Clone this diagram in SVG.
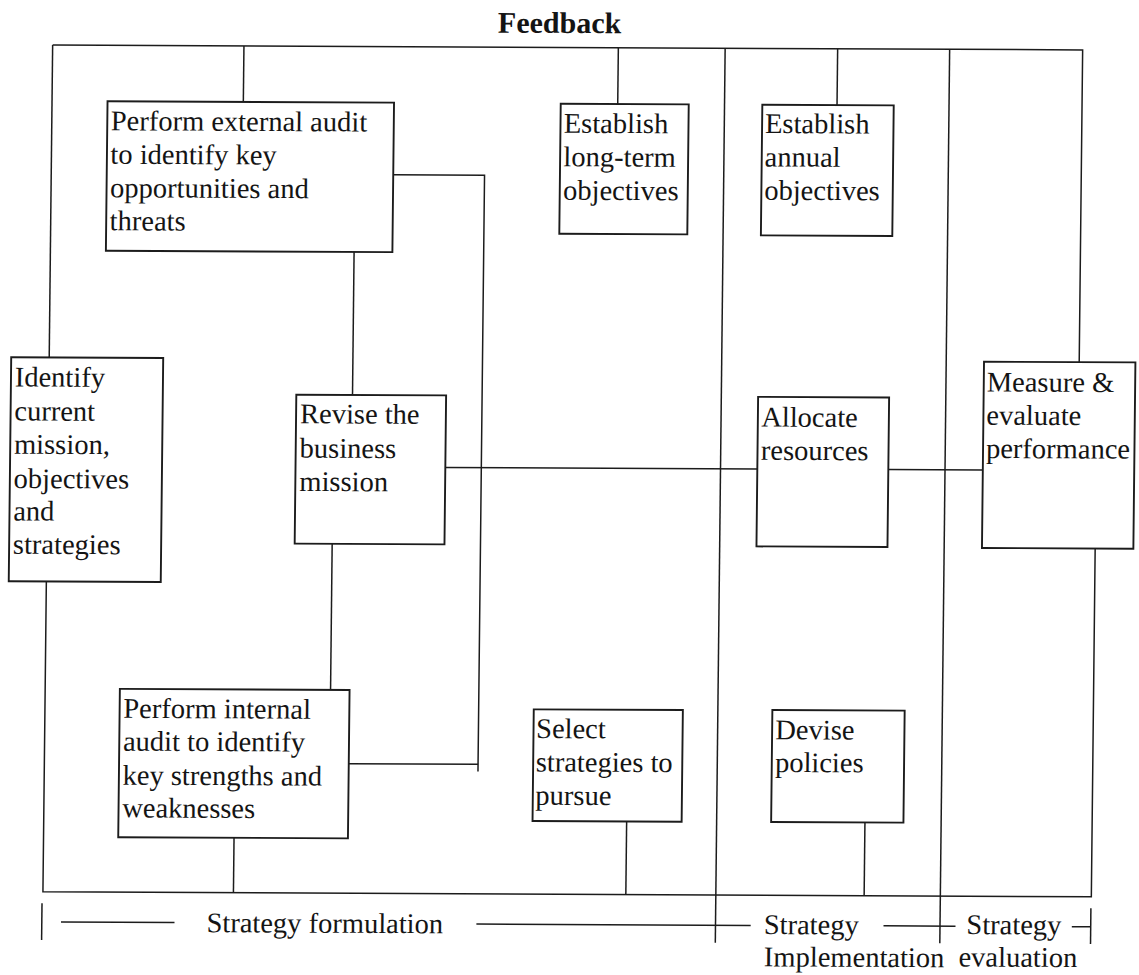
<svg xmlns="http://www.w3.org/2000/svg" width="1139" height="975" viewBox="0 0 1139 975">
  <style>
    .box { fill: #ffffff; stroke: #1c1c1c; stroke-width: 1.9; }
    .wire { fill: none; stroke: #1c1c1c; stroke-width: 1.5; }
    .lbl { font-family: "Liberation Serif", "Times New Roman", serif; font-size: 28.5px; fill: #141414; }
    .title { font-family: "Liberation Serif", "Times New Roman", serif; font-size: 30px; font-weight: bold; fill: #141414; }
  </style>
  <rect width="1139" height="975" fill="#ffffff"/>
  <!-- whole sheet sits with a slight tilt -->
  <g transform="matrix(1 0.0048 -0.011 1 5.17 -2.74)">
    <text class="title" x="493" y="33">Feedback</text>

    <g id="connectors">
      <!-- feedback loop frame -->
      <path class="wire" d="M48,47.5 H1078 V359.7"/>
      <path class="wire" d="M48,47.5 V360"/>
      <path class="wire" d="M47.6,584 V894.3 H1096 V546"/>
      <!-- drops from the feedback line -->
      <path class="wire" d="M239.3,47.5 V103.5"/>
      <path class="wire" d="M613.7,47.5 V103.8"/>
      <path class="wire" d="M833,47.5 V103.8"/>
      <!-- stage dividers -->
      <path class="wire" d="M720.5,47.5 V942"/>
      <path class="wire" d="M945,47.5 V941.5"/>
      <!-- audits to mission -->
      <path class="wire" d="M390,175.7 H481.3 V772"/>
      <path class="wire" d="M352,764.7 H481.3"/>
      <path class="wire" d="M351.7,253 V396"/>
      <path class="wire" d="M333,545 V691"/>
      <!-- rises to the baseline -->
      <path class="wire" d="M238.1,839.4 V894.3"/>
      <path class="wire" d="M630.5,821.2 V894.3"/>
      <path class="wire" d="M868.8,821 V894.3"/>
      <!-- mission through resources to evaluation -->
      <path class="wire" d="M445.3,468 H757.3"/>
      <path class="wire" d="M888.3,468 H982.8"/>
      <!-- stage scale -->
      <path class="wire" d="M46.8,905.8 V942.5"/>
      <path class="wire" d="M66,924.5 H179.5"/>
      <path class="wire" d="M481.4,924.5 H755.7"/>
      <path class="wire" d="M888.5,924.3 H960.5"/>
      <path class="wire" d="M1076.8,924.3 H1095.7"/>
      <path class="wire" d="M1095.7,905.8 V941.5"/>
    </g>

    <g id="external-audit">
      <rect class="box" x="103.5" y="103.5" width="286.5" height="149.5"/>
      <text class="lbl" x="107"><tspan x="107" y="132.5">Perform external audit</tspan><tspan x="107" y="166">to identify key</tspan><tspan x="107" y="199.5">opportunities and</tspan><tspan x="107" y="232.5">threats</tspan></text>
    </g>

    <g id="long-term-objectives">
      <rect class="box" x="556.7" y="103.8" width="128" height="130"/>
      <text class="lbl"><tspan x="560" y="132.8">Establish</tspan><tspan x="560" y="166.3">long-term</tspan><tspan x="560" y="199.8">objectives</tspan></text>
    </g>

    <g id="annual-objectives">
      <rect class="box" x="758.3" y="103.8" width="131.4" height="130.7"/>
      <text class="lbl"><tspan x="761.2" y="132.1">Establish</tspan><tspan x="761.2" y="165.5">annual</tspan><tspan x="761.2" y="198.8">objectives</tspan></text>
    </g>

    <g id="identify-mission">
      <rect class="box" x="10" y="360" width="152" height="224"/>
      <text class="lbl"><tspan x="13.8" y="389.1">Identify</tspan><tspan x="13.8" y="423.1">current</tspan><tspan x="13.8" y="456.4">mission,</tspan><tspan x="13.8" y="490.7">objectives</tspan><tspan x="13.8" y="523.1">and</tspan><tspan x="13.8" y="556.4">strategies</tspan></text>
    </g>

    <g id="revise-mission">
      <rect class="box" x="295.5" y="396" width="149.8" height="149"/>
      <text class="lbl"><tspan x="299.5" y="424.5">Revise the</tspan><tspan x="299.5" y="458.9">business</tspan><tspan x="299.5" y="492.2">mission</tspan></text>
    </g>

    <g id="allocate-resources">
      <rect class="box" x="757.3" y="396" width="131" height="149.5"/>
      <text class="lbl"><tspan x="760.7" y="425.6">Allocate</tspan><tspan x="760.7" y="458.9">resources</tspan></text>
    </g>

    <g id="measure-performance">
      <rect class="box" x="982.8" y="359.7" width="151.4" height="186.3"/>
      <text class="lbl"><tspan x="985.8" y="389.4">Measure &amp;</tspan><tspan x="985.8" y="422.7">evaluate</tspan><tspan x="985.8" y="456">performance</tspan></text>
    </g>

    <g id="internal-audit">
      <rect class="box" x="122.3" y="691" width="229.7" height="148.4"/>
      <text class="lbl"><tspan x="126" y="720">Perform internal</tspan><tspan x="126" y="752.8">audit to identify</tspan><tspan x="126" y="786.8">key strengths and</tspan><tspan x="126" y="819.5">weaknesses</tspan></text>
    </g>

    <g id="select-strategies">
      <rect class="box" x="536.4" y="709.5" width="149.1" height="111.7"/>
      <text class="lbl"><tspan x="539" y="738.2">Select</tspan><tspan x="539" y="771.6">strategies to</tspan><tspan x="539" y="804.9">pursue</tspan></text>
    </g>

    <g id="devise-policies">
      <rect class="box" x="775" y="709" width="132.3" height="112"/>
      <text class="lbl"><tspan x="778.2" y="738.2">Devise</tspan><tspan x="778.2" y="771">policies</tspan></text>
    </g>

    <g id="stage-labels">
      <text class="lbl" x="211.5" y="933.9">Strategy formulation</text>
      <text class="lbl" x="768.8" y="933.1">Strategy</text>
      <text class="lbl" x="769.3" y="965.4">Implementation</text>
      <text class="lbl" x="971.4" y="932.2">Strategy</text>
      <text class="lbl" x="963.9" y="964.6">evaluation</text>
    </g>
  </g>
</svg>
